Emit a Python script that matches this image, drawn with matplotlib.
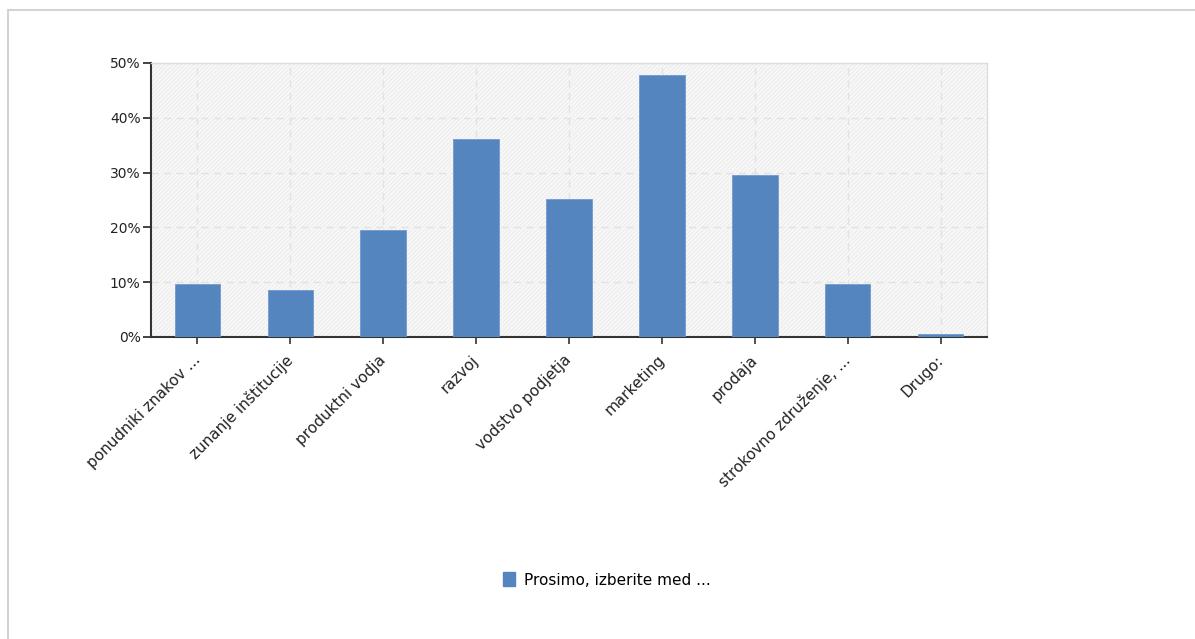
import matplotlib.pyplot as plt
from matplotlib.patches import Rectangle
from matplotlib.ticker import FuncFormatter
from matplotlib.transforms import ScaledTranslation

categories = ['ponudniki znakov ...', 'zunanje inštitucije', 'produktni vodja',
              'razvoj', 'vodstvo podjetja', 'marketing', 'prodaja',
              'strokovno združenje, ...', 'Drugo:']
values = [9.6, 8.6, 19.5, 36.1, 25.1, 47.8, 29.5, 9.6, 0.5]
series_name = 'Prosimo, izberite med ...'

bar_color = '#5585bf'

fig = plt.figure(figsize=(11.95, 6.39), dpi=100)
fig.patch.set_facecolor('white')

# light frame around the whole picture (top and left edges visible)
fig.add_artist(Rectangle((7.5 / 1195, -0.01), 1.02, 1 - 9.5 / 639 + 0.01,
                         transform=fig.transFigure, fill=False,
                         edgecolor='#d3d3d3', linewidth=1.5))

ax = fig.add_axes([151 / 1195, 1 - 337 / 639, 836 / 1195, 274 / 639])
ax.set_facecolor('#f9f9f9')
ax.add_patch(Rectangle((0, 0), 1, 1, transform=ax.transAxes, fill=False,
                       hatch='////////', edgecolor='#eeeeee', linewidth=0,
                       zorder=0))

x = range(len(categories))
ax.bar(x, values, width=0.49, color=bar_color, edgecolor='#6f9ad0',
       linewidth=0.6, zorder=3)

ax.set_xlim(-0.5, len(categories) - 0.5)
ax.set_ylim(0, 50)
ax.set_yticks([0, 10, 20, 30, 40, 50])
ax.yaxis.set_major_formatter(FuncFormatter(lambda v, p: f'{v:.0f}%'))
ax.set_xticks(list(x))
ax.set_xticklabels(categories, rotation=45, ha='right', rotation_mode='anchor',
                   fontsize=11, color='#222222')
ax.tick_params(axis='y', labelsize=10, colors='#222222', length=6, width=1.2, pad=1.5)
ax.tick_params(axis='x', length=5, width=1.2, color='#333333', pad=6)

# nudge the slanted labels a little to the left, like the original
shift = ScaledTranslation(-5 / 100, 0, fig.dpi_scale_trans)
for lbl in ax.get_xticklabels():
    lbl.set_transform(lbl.get_transform() + shift)

ax.grid(True, color='#e2e2e2', linestyle=(0, (5, 4)), linewidth=1, zorder=1)
ax.set_axisbelow(True)

for side in ['top', 'right']:
    ax.spines[side].set_color('#dcdcdc')
    ax.spines[side].set_linewidth(1)
ax.spines['left'].set_color('#333333')
ax.spines['left'].set_linewidth(1.5)
ax.spines['bottom'].set_color('#333333')
ax.spines['bottom'].set_linewidth(1.5)

handle = Rectangle((0, 0), 1, 1, color=bar_color)
fig.legend([handle], [series_name], loc='center', bbox_to_anchor=(607 / 1195, 1 - 580 / 639),
           frameon=False, fontsize=11, handlelength=0.75, handleheight=1.0,
           handletextpad=0.6)

fig.savefig('out.png', dpi=100)
